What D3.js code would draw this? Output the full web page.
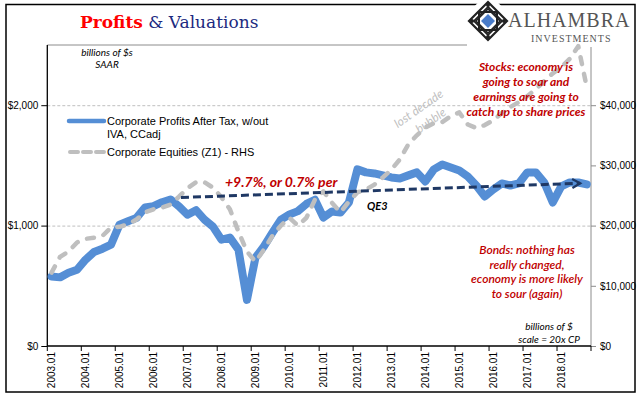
<!DOCTYPE html>
<html><head><meta charset="utf-8">
<script src="https://cdn.jsdelivr.net/npm/d3@7"></script>
<style>body{margin:0;background:#fff}svg{display:block}</style>
</head><body><svg id="c" width="641" height="409"></svg>
<script>
// ---------- data ----------
const years = [2003,2004,2005,2006,2007,2008,2009,2010,2011,2012,2013,2014,2015,2016,2017,2018];
const quarters = ["01","02","03","04"];
const categories = years.flatMap(y => quarters.map(q => y + "." + q));
const xTickLabels = years.map(y => y + ".01");

// Corporate Profits After Tax, w/out IVA, CCadj (billions $, SAAR) - LHS
const profits = [578,570,608,633, 717,780,808,842, 1008,1036,1064,1150, 1161,1194,1217,1160,
  1090,1128,1050,992, 883,900,800,383, 733,828,941,1050, 1092,1120,1180,1215,
  1067,1117,1108,1192, 1467,1442,1433,1417, 1400,1392,1417,1442, 1367,1467,1508,1483,
  1458,1408,1333,1242, 1300,1350,1333,1350, 1442,1442,1358,1192, 1325,1358,1358,1342];

// Corporate Equities (Z1) (billions $) - RHS
const equities = [12200,14800,15700,17200, 17800,18000,18300,19700, 19800,20200,21000,22200, 22700,23000,23500,24800,
  26200,27200,27200,26300, 24700,22700,19000,15700, 14000,16000,18300,20000, 21300,20000,21300,24300,
  25700,23800,22200,24000, 25500,26000,26800,28000, 29300,31000,33500,35000, 36300,37000,37200,38200,
  38800,36800,36200,36700, 37500,38700,39700,40500, 41500,42700,44000,45300, 46300,47700,49800,43000];

// trend arrow endpoints (LHS units)
const trendCats = ["2006.04","2018.03"];
const trendVals = [1233,1352];

const leftTicks = [0,1000,2000];
const rightTicks = [0,10000,20000,30000,40000];

// ---------- layout ----------
const svg = d3.select("#c");
const L = 47.3, R = 591, T = 45, B = 346;

const x = d3.scaleBand().domain(categories).range([L, R]).padding(0);
const cx = c => x(c) + x.bandwidth() / 2;
const yL = d3.scaleLinear().domain([0, 2500]).range([B, T]);
const yR = d3.scaleLinear().domain([0, 50000]).range([B, T]);

// outer frame
svg.append("rect").attr("x",6).attr("y",4.5).attr("width",629).attr("height",387.5)
  .attr("fill","none").attr("stroke","#000").attr("stroke-width",1.5);

// title
const title = svg.append("text").attr("x",80).attr("y",28)
  .style("font-family","'DejaVu Serif', serif").style("font-size","17px");
title.append("tspan").text("Profits").attr("fill","#ff0000").style("font-weight","bold");
title.append("tspan").text(" & Valuations").attr("fill","#1c2a80");

// gridlines
svg.append("g").selectAll("line").data([1000,2000]).join("line")
  .attr("x1",L).attr("x2",R).attr("y1",d=>yL(d)+0.5).attr("y2",d=>yL(d)+0.5)
  .attr("stroke","#bfbfbf").attr("stroke-width",1).attr("stroke-dasharray","3,2");

// top plot border (gray)
svg.append("line").attr("x1",L).attr("x2",467).attr("y1",T).attr("y2",T)
  .attr("stroke","#8c8c8c").attr("stroke-width",1);

// left axis
const axL = svg.append("g").attr("transform",`translate(${L},0)`)
  .call(d3.axisLeft(yL).tickValues(leftTicks).tickSize(6).tickPadding(3)
    .tickFormat(d => "$" + d3.format(",")(d)));
axL.select(".domain").attr("stroke","#000").attr("stroke-width",1.3).attr("d",`M0,${T}V${B}`);
axL.selectAll(".tick line").attr("stroke","#000");
axL.selectAll("text").style("font-family","'Liberation Sans', Arial").style("font-size","10px").attr("fill","#000");

// right axis
const axR = svg.append("g").attr("transform",`translate(${R},0)`)
  .call(d3.axisRight(yR).tickValues(rightTicks).tickSize(5).tickPadding(4)
    .tickFormat(d => "$" + d3.format(",")(d)));
axR.select(".domain").attr("stroke","#8c8c8c").attr("d",`M0,${T+2}V${B}`);
axR.selectAll(".tick line").attr("stroke","#8c8c8c");
axR.selectAll("text").style("font-family","'Liberation Sans', Arial").style("font-size","10px").attr("fill","#000");

// x axis
const gx = svg.append("g");
gx.append("line").attr("x1",L).attr("x2",R).attr("y1",B).attr("y2",B).attr("stroke","#000").attr("stroke-width",1.3);
const tickCats = categories.filter((c,i) => i % 4 === 0);
gx.selectAll("line.t").data(tickCats.concat(["END"])).join("line").attr("class","t")
  .attr("x1",d => d==="END" ? R : x(d)).attr("x2",d => d==="END" ? R : x(d))
  .attr("y1",B).attr("y2",B+5).attr("stroke","#000");
gx.selectAll("text").data(xTickLabels).join("text")
  .attr("transform",d => `translate(${cx(d)+3.5},${B+6}) rotate(-90)`)
  .attr("text-anchor","end")
  .style("font-family","'Liberation Sans', Arial").style("font-size","10px").attr("fill","#000")
  .text(d => d);

// series: profits (blue)
const lineL = d3.line().x((d,i) => cx(categories[i])).y(d => yL(d));
svg.append("path").datum(profits).attr("d",lineL)
  .attr("fill","none").attr("stroke","#558ed5").attr("stroke-width",8)
  .attr("stroke-linejoin","round").attr("stroke-linecap","round");

// series: equities (gray dashed)
const lineR = d3.line().x((d,i) => cx(categories[i])).y(d => yR(d));
svg.append("path").datum(equities).attr("d",lineR)
  .attr("fill","none").attr("stroke","#bfbfbf").attr("stroke-width",4.5)
  .attr("stroke-dasharray","7,10").attr("stroke-linecap","round").attr("stroke-linejoin","round");

// trend arrow
const defs = svg.append("defs");
defs.append("marker").attr("id","arr").attr("markerUnits","userSpaceOnUse")
  .attr("markerWidth",12).attr("markerHeight",12).attr("refX",9).attr("refY",5)
  .attr("orient","auto")
  .append("path").attr("d","M1,0.5 L9,5 L1,9.5").attr("fill","none")
  .attr("stroke","#1f3864").attr("stroke-width",2.2);
svg.append("line")
  .attr("x1",cx(trendCats[0])+2).attr("y1",yL(trendVals[0]))
  .attr("x2",cx(trendCats[1])+2).attr("y2",yL(trendVals[1]))
  .attr("stroke","#1f3864").attr("stroke-width",3).attr("stroke-dasharray","8,4")
  .attr("marker-end","url(#arr)");

// legend
const lg = svg.append("g").style("font-family","'Liberation Sans', Arial").style("font-size","11px");
lg.append("line").attr("x1",69).attr("x2",104).attr("y1",121).attr("y2",121)
  .attr("stroke","#558ed5").attr("stroke-width",4.5).attr("stroke-linecap","round");
lg.append("text").attr("x",107).attr("y",125).text("Corporate Profits After Tax, w/out");
lg.append("text").attr("x",107).attr("y",138).text("IVA, CCadj");
lg.append("line").attr("x1",70).attr("x2",104).attr("y1",152).attr("y2",152)
  .attr("stroke","#bfbfbf").attr("stroke-width",4).attr("stroke-dasharray","8,5").attr("stroke-linecap","round");
lg.append("text").attr("x",107).attr("y",156).text("Corporate Equities (Z1) - RHS");

// annotations
const anno = (txt, xx, yy, opts) => {
  const t = svg.append("text").attr("x",xx).attr("y",yy)
    .attr("text-anchor",opts.anchor || "middle")
    .style("font-family","Lato, 'Open Sans', sans-serif")
    .style("font-style","italic").style("font-weight",opts.weight || "bold")
    .style("font-size",opts.size + "px").attr("fill",opts.color);
  if (opts.rotate) t.attr("transform",`rotate(${opts.rotate},${xx},${yy})`);
  t.text(txt);
  return t;
};
anno("billions of $s", 107, 56, {size:10, color:"#000", weight:"normal"});
anno("SAAR", 107, 68, {size:10, color:"#000", weight:"normal"});
anno("+9.7%, or 0.7% per", 225, 187, {size:14, color:"#c00000", anchor:"start"});
anno("QE3", 367, 210, {size:11, color:"#000"  , anchor:"start"});
anno("lost decade", 421, 112, {size:12, color:"#bfbfbf", weight:"normal", rotate:-35});
anno("bubble", 433, 124, {size:12, color:"#bfbfbf", weight:"normal", rotate:-35});
const stocks = ["Stocks: economy is","going to soar and","earnings are going to","catch up to share prices"];
stocks.forEach((s,i) => anno(s, 526, 71 + i*15, {size:12, color:"#c00000"}));
const bonds = ["Bonds: nothing  has","really changed,","economy is more likely","to sour (again)"];
bonds.forEach((s,i) => anno(s, 527, 254 + i*14.7, {size:12, color:"#c00000", weight:"600"}));
anno("billions of $", 549, 330, {size:10, color:"#000", weight:"normal"});
anno("scale = 20x CP", 549, 343, {size:10, color:"#000", weight:"normal"});

// logo
const lgG = svg.append("g").attr("transform","translate(488,21)");
lgG.append("rect").attr("x",-20).attr("y",-20).attr("width",40).attr("height",40).attr("fill","#fff").attr("transform","rotate(45)");
lgG.append("path").attr("d","M0,-19 L19,0 L0,19 L-19,0Z").attr("fill","none").attr("stroke","#222").attr("stroke-width",2.2);
lgG.append("path").attr("d","M0,-14 L14,0 L0,14 L-14,0Z").attr("fill","none").attr("stroke","#222").attr("stroke-width",1.8);
lgG.append("rect").attr("x",-9).attr("y",-9).attr("width",18).attr("height",18).attr("fill","none").attr("stroke","#222").attr("stroke-width",2);
lgG.append("path").attr("d","M0,-12 L12,0 L0,12 L-12,0Z").attr("fill","none").attr("stroke","#222").attr("stroke-width",1.5);
lgG.append("path").attr("d","M0,-7 L7,0 L0,7 L-7,0Z").attr("fill","#4a7cc9");
[[0,-16],[16,0],[0,16],[-16,0]].forEach(p => lgG.append("circle").attr("cx",p[0]).attr("cy",p[1]).attr("r",2).attr("fill","#222"));
svg.append("text").attr("x",508).attr("y",27).text("ALHAMBRA")
  .style("font-family","'Liberation Serif', serif").style("font-size","20px").style("letter-spacing","1px").attr("fill","#555");
svg.append("text").attr("x",531).attr("y",42).text("INVESTMENTS")
  .style("font-family","'Liberation Serif', serif").style("font-size","10px").style("letter-spacing","1px").attr("fill","#555");
</script></body></html>
